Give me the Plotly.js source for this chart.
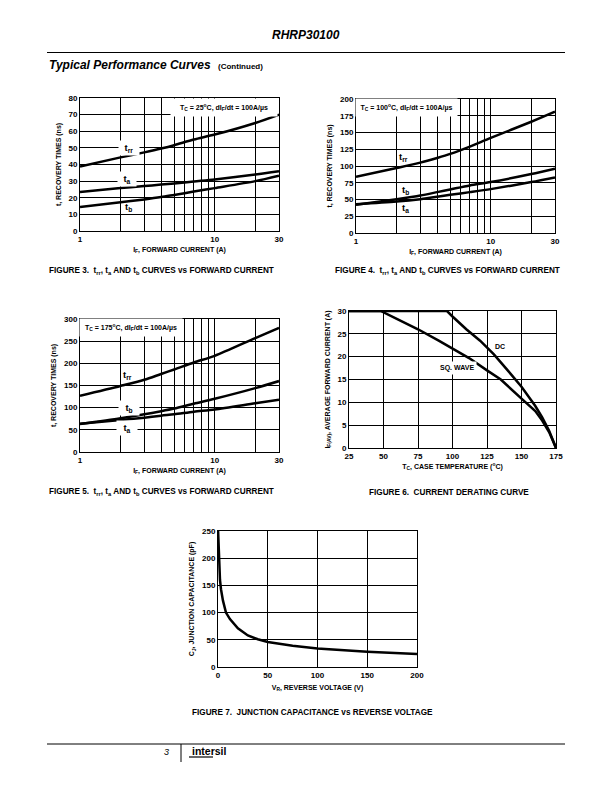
<!DOCTYPE html>
<html>
<head>
<meta charset="utf-8">
<script src="https://cdn.plot.ly/plotly-3.0.1.min.js"></script>
<style>html,body{margin:0;padding:0;background:#fff;}#chart{width:612px;height:792px;}</style>
</head>
<body>
<div id="chart"></div>
<script>
// ---------------- DATA ----------------
// Figure 3: Tc = 25 C
const fig3Current = [1, 2, 3, 4, 5, 7, 10, 20, 30];
const fig3Trr = [38.8, 44.3, 47.3, 49.6, 51.6, 55, 58, 65, 70];
const fig3Ta  = [23.5, 25.8, 27, 27.9, 28.6, 29.8, 31, 34, 36];
const fig3Tb  = [14.5, 17.3, 19, 20.4, 21.7, 23.7, 25.8, 30, 33.3];
// Figure 4: Tc = 100 C
const fig4Current = [1, 2, 3, 4, 5, 7, 10, 20, 30];
const fig4Trr = [84, 97, 105, 112, 118, 129, 142, 166, 181];
const fig4Tb  = [42, 50.5, 56, 61, 65, 71, 76, 88, 96];
const fig4Ta  = [43, 47, 50.5, 54, 57, 61, 65.5, 76, 83];
// Figure 5: Tc = 175 C
const fig5Current = [1, 2, 3, 4, 5, 7, 10, 20, 30];
const fig5Trr = [127, 149, 163, 176, 186, 202, 217, 257, 280];
const fig5Tb  = [63, 76, 85, 92, 98, 109, 120, 144, 160];
const fig5Ta  = [64, 72, 77.5, 82, 85, 91, 96, 110, 118];
// Figure 6: current derating
const fig6DcTemp    = [25, 96, 100, 110, 120, 130, 140, 150, 160, 165, 170, 175];
const fig6DcCurrent = [30, 30, 28.8, 26, 23.5, 20.5, 17, 13.4, 9.2, 6.7, 3.8, 0];
const fig6SqTemp    = [25, 48, 60, 75, 90, 100, 112, 125, 135, 150, 160, 165, 170, 175];
const fig6SqCurrent = [30, 30, 28.2, 26, 23.5, 21.8, 19.7, 17, 15, 10.8, 8.1, 6, 3.5, 0];
// Figure 7: junction capacitance
const fig7Voltage     = [0, 1, 2, 3, 5, 8, 12, 20, 30, 40, 50, 75, 100, 150, 200];
const fig7Capacitance = [255, 190, 160, 143, 122, 100, 88, 71, 58, 51, 46, 39, 34, 28, 24];
// Tick labels / log grid values
const logTickVals = [1, 10, 30];
const logTickText = ['1', '10', '30'];
const logGridVals = [2, 3, 4, 5, 6, 7, 8, 9, 20];

// ---------------- LAYOUT HELPERS ----------------
const W = 612, H = 792;
const FONT = 'Liberation Sans, Arial, Helvetica, sans-serif';
const BLACK = '#000000';
const px = v => v / W;
const py = v => 1 - v / H;

function axisBase(extra) {
  return Object.assign({
    showline: true, mirror: true, linecolor: BLACK, linewidth: 1,
    showgrid: true, gridcolor: BLACK, gridwidth: 1,
    zeroline: false, ticks: '', fixedrange: true,
    tickfont: {family: FONT, size: 8, weight: 'bold', color: BLACK}
  }, extra);
}
function logX(domain, anchor, title) {
  return axisBase({
    type: 'log', domain: domain, anchor: anchor,
    range: [0, Math.log10(30)], tickmode: 'array',
    tickvals: logTickVals, ticktext: logTickText,
    minor: {tickmode: 'array', tickvals: logGridVals, showgrid: true, gridcolor: BLACK, gridwidth: 1, ticks: ''},
    title: {text: title, font: {family: FONT, size: 7, weight: 'bold', color: BLACK}, standoff: 4}
  });
}
function linAx(domain, anchor, range, dtick, title, standoff) {
  return axisBase({
    domain: domain, anchor: anchor, range: range, dtick: dtick, tick0: range[0],
    title: {text: title, font: {family: FONT, size: 7, weight: 'bold', color: BLACK}, standoff: standoff}
  });
}
function curve(x, y, xa, ya, shape) {
  return {x: x, y: y, xaxis: xa, yaxis: ya, type: 'scatter', mode: 'lines',
    line: {color: BLACK, width: 2.5, shape: shape || 'spline', smoothing: 0.8},
    hoverinfo: 'skip', cliponaxis: false};
}
function lab(text, x, y, xref, yref, opts) {
  return Object.assign({
    text: text, x: x, y: y, xref: xref, yref: yref, showarrow: false,
    font: {family: FONT, size: 8, weight: 700, color: BLACK},
    xanchor: 'center', yanchor: 'middle'
  }, opts || {});
}

const recTitle = 't, RECOVERY TIMES (ns)';
const fwdTitle = 'I<sub>F</sub>, FORWARD CURRENT (A)';

const traces = [
  curve(fig3Current, fig3Trr, 'x', 'y'),
  curve(fig3Current, fig3Ta, 'x', 'y'),
  curve(fig3Current, fig3Tb, 'x', 'y'),
  curve(fig4Current, fig4Trr, 'x2', 'y2'),
  curve(fig4Current, fig4Tb, 'x2', 'y2'),
  curve(fig4Current, fig4Ta, 'x2', 'y2'),
  curve(fig5Current, fig5Trr, 'x3', 'y3'),
  curve(fig5Current, fig5Tb, 'x3', 'y3'),
  curve(fig5Current, fig5Ta, 'x3', 'y3'),
  curve(fig6DcTemp, fig6DcCurrent, 'x4', 'y4', 'linear'),
  curve(fig6SqTemp, fig6SqCurrent, 'x4', 'y4', 'linear'),
  curve(fig7Voltage, fig7Capacitance, 'x5', 'y5', 'linear')
];

const L = Math.log10;
const boxFont = {family: FONT, size: 7, weight: 700, color: BLACK};
const curveFont = {family: FONT, size: 9.5, weight: 700, color: BLACK};
const capFont = {family: FONT, size: 8.2, weight: 700, color: BLACK};
const annotations = [
  // header / footer
  lab('<b><i>RHRP30100</i></b>', px(306), py(35), 'paper', 'paper', {font: {family: FONT, size: 12, weight: 700, color: BLACK}}),
  lab('<b><i>Typical Performance Curves</i></b>', px(47), py(65), 'paper', 'paper', {xanchor: 'left', font: {family: FONT, size: 12, weight: 700, color: BLACK}}),
  lab('(Continued)', px(216), py(66), 'paper', 'paper', {xanchor: 'left', font: {family: FONT, size: 8, weight: 700, color: BLACK}}),
  lab('<i>3</i>', px(171), py(752), 'paper', 'paper', {xanchor: 'right', font: {family: FONT, size: 9, weight: 400, color: BLACK}}),
  lab('intersil', px(190), py(751), 'paper', 'paper', {xanchor: 'left', font: {family: FONT, size: 10.5, weight: 900, color: BLACK}}),
  // captions
  lab('FIGURE 3.  t<sub>rr</sub>, t<sub>a</sub> AND t<sub>b</sub> CURVES vs FORWARD CURRENT', px(47), py(271), 'paper', 'paper', {xanchor: 'left', font: capFont}),
  lab('FIGURE 4.  t<sub>rr</sub>, t<sub>a</sub> AND t<sub>b</sub> CURVES vs FORWARD CURRENT', px(333), py(271), 'paper', 'paper', {xanchor: 'left', font: capFont}),
  lab('FIGURE 5.  t<sub>rr</sub>, t<sub>a</sub> AND t<sub>b</sub> CURVES vs FORWARD CURRENT', px(47), py(492), 'paper', 'paper', {xanchor: 'left', font: capFont}),
  lab('FIGURE 6.  CURRENT DERATING CURVE', px(367), py(492), 'paper', 'paper', {xanchor: 'left', font: capFont}),
  lab('FIGURE 7.  JUNCTION CAPACITANCE vs REVERSE VOLTAGE', px(190), py(712), 'paper', 'paper', {xanchor: 'left', font: capFont}),
  // condition boxes
  lab('T<sub>C</sub> = 25<sup>o</sup>C, dI<sub>F</sub>/dt = 100A/µs', px(224), py(107), 'paper', 'paper', {width: 104, height: 15, bgcolor: '#fff', font: boxFont}),
  lab('T<sub>C</sub> = 100<sup>o</sup>C, dI<sub>F</sub>/dt = 100A/µs', px(406.5), py(107.5), 'paper', 'paper', {width: 99, height: 15, bgcolor: '#fff', font: boxFont}),
  lab('T<sub>C</sub> = 175<sup>o</sup>C, dI<sub>F</sub>/dt = 100A/µs', px(131), py(327.5), 'paper', 'paper', {width: 100, height: 15, bgcolor: '#fff', font: boxFont}),
  // curve labels
  lab('t<sub>rr</sub>', L(2.33), 49.7, 'x', 'y', {width: 18, height: 12, bgcolor: '#fff', font: curveFont}),
  lab('t<sub>a</sub>', L(2.24), 31.1, 'x', 'y', {width: 16, height: 12, bgcolor: '#fff', font: curveFont}),
  lab('t<sub>b</sub>', L(2.3), 14.3, 'x', 'y', {font: curveFont}),
  lab('t<sub>rr</sub>', L(2.24), 113.9, 'x2', 'y2', {font: curveFont}),
  lab('t<sub>b</sub>', L(2.35), 64.2, 'x2', 'y2', {font: curveFont}),
  lab('t<sub>a</sub>', L(2.35), 36.9, 'x2', 'y2', {font: curveFont}),
  lab('t<sub>rr</sub>', L(2.24), 173.7, 'x3', 'y3', {font: curveFont}),
  lab('t<sub>b</sub>', L(2.3), 98.6, 'x3', 'y3', {width: 18, height: 12, bgcolor: '#fff', font: curveFont}),
  lab('t<sub>a</sub>', L(2.24), 53.5, 'x3', 'y3', {width: 18, height: 12, bgcolor: '#fff', font: curveFont}),
  lab('DC', 134.4, 22.2, 'x4', 'y4', {font: boxFont}),
  lab('SQ. WAVE', 103, 17.5, 'x4', 'y4', {font: boxFont, bgcolor: '#fff', borderpad: 2})
];

const shapes = [
  {type: 'line', xref: 'paper', yref: 'paper', x0: px(47), x1: px(565), y0: py(52.5), y1: py(52.5), line: {color: BLACK, width: 1}},
  {type: 'line', xref: 'paper', yref: 'paper', x0: px(47), x1: px(565), y0: py(744), y1: py(744), line: {color: BLACK, width: 1}},
  {type: 'line', xref: 'paper', yref: 'paper', x0: px(181), x1: px(181), y0: py(744), y1: py(762), line: {color: BLACK, width: 1}},
  {type: 'line', xref: 'paper', yref: 'paper', x0: px(189), x1: px(213), y0: py(757), y1: py(757), line: {color: BLACK, width: 1.2}}
];

const layout = {
  width: W, height: H,
  margin: {l: 0, r: 0, t: 0, b: 0},
  paper_bgcolor: '#fff', plot_bgcolor: '#fff',
  showlegend: false,
  font: {family: FONT, color: BLACK, size: 8},
  xaxis:  logX([px(80), px(279)], 'y', fwdTitle),
  yaxis:  linAx([py(231), py(98)], 'x', [0, 80], 10, recTitle, 6),
  xaxis2: logX([px(356), px(555)], 'y2', fwdTitle),
  yaxis2: linAx([py(233), py(99)], 'x2', [0, 200], 25, recTitle, 6),
  xaxis3: logX([px(80), px(279)], 'y3', fwdTitle),
  yaxis3: linAx([py(452), py(319)], 'x3', [0, 300], 50, recTitle, 6),
  xaxis4: linAx([px(349), px(556)], 'y4', [25, 175], 25, 'T<sub>C</sub>, CASE TEMPERATURE (<sup>o</sup>C)', 4),
  yaxis4: linAx([py(448), py(311)], 'x4', [0, 30], 5, 'I<sub>F(AV)</sub>, AVERAGE FORWARD CURRENT (A)', 6),
  xaxis5: linAx([px(218), px(417)], 'y5', [0, 200], 50, 'V<sub>R</sub>, REVERSE VOLTAGE (V)', 6),
  yaxis5: linAx([py(667), py(531)], 'x5', [0, 250], 50, 'C<sub>J</sub>, JUNCTION CAPACITANCE (pF)', 6),
  annotations: annotations,
  shapes: shapes
};

Plotly.newPlot('chart', traces, layout, {staticPlot: true, displayModeBar: false});
</script>
</body>
</html>
